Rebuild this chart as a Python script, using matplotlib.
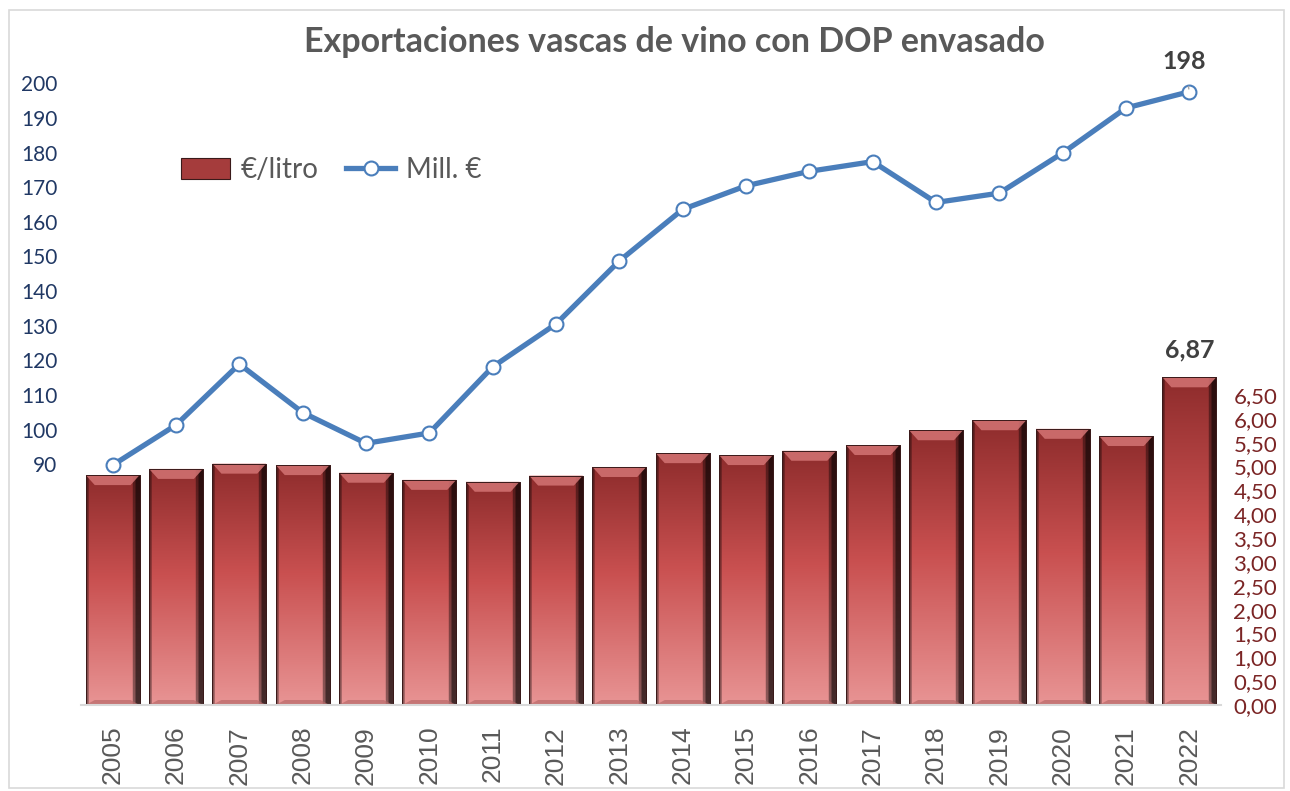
"""Exportaciones vascas de vino con DOP envasado: €/litro (barras) y Mill. € (línea)."""

import matplotlib

matplotlib.use("Agg")
import matplotlib.pyplot as plt  # noqa: E402
import numpy as np  # noqa: E402
from matplotlib.colors import to_rgb  # noqa: E402
from matplotlib.lines import Line2D  # noqa: E402
from matplotlib.patches import Polygon, Rectangle  # noqa: E402

years = [str(y) for y in range(2005, 2023)]
eur_litro = [4.82, 4.95, 5.06, 5.03, 4.87, 4.72, 4.68, 4.81, 4.99,
             5.28, 5.24, 5.33, 5.45, 5.76, 5.97, 5.79, 5.64, 6.87]
mill_eur = [89.7, 101.3, 118.9, 104.9, 96.0, 99.0, 118.1, 130.5, 148.7,
            163.6, 170.4, 174.6, 177.4, 165.6, 168.3, 179.9, 192.9, 197.6]
left_ticks = list(range(90, 201, 10))
right_ticks = [i * 0.5 for i in range(14)]

TITLE = "Exportaciones vascas de vino con DOP envasado"
BLUE = "#4A7EBB"
GREY = "#595959"


def bar_image(nrows=120, ncols=60):
    """Vertical dark-red -> pink gradient with darker side edges."""
    t = np.linspace(0, 1, nrows)[:, None]
    stops = [(0.0, "#8E2C2C"), (0.45, "#C95050"), (1.0, "#E89494")]
    pos = [s[0] for s in stops]
    cols = np.array([to_rgb(s[1]) for s in stops])
    rgb = np.stack([np.interp(t[:, 0], pos, cols[:, k]) for k in range(3)], axis=1)
    img = np.repeat(rgb[:, None, :], ncols, axis=1)
    u = np.linspace(0, 1, ncols)
    shade = np.ones(ncols)
    shade[u < 0.05] = 0.6
    shade[u > 0.92] = 0.3
    shade[(u > 0.88) & (u <= 0.92)] = 0.6
    return np.clip(img * shade[None, :, None], 0, 1)


plt.rcParams["font.family"] = ["Lato", "DejaVu Sans"]

fig = plt.figure(figsize=(12.9, 7.91), dpi=100)
ax = fig.add_axes([81 / 1290, 86 / 791, (1221 - 81) / 1290, (705 - 40) / 791])
ax2 = ax.twinx()

x = np.arange(len(years))
width = 0.85
img = bar_image()
bars = ax.bar(x, eur_litro, width=width, color="#B84444", edgecolor="#3A1A1A",
              linewidth=0.6, zorder=2)
bev_y = 10 / 47.7
bev_x = 9 / 63.3
for rect, v in zip(bars, eur_litro):
    x0 = rect.get_x()
    x1 = x0 + rect.get_width()
    im = ax.imshow(img, extent=[x0, x1, 0, v], origin="upper", aspect="auto",
                   zorder=2.1, interpolation="bilinear")
    im.set_clip_path(rect)
    ax.add_patch(Polygon([(x0, v), (x1, v), (x1 - bev_x, v - bev_y),
                          (x0 + bev_x, v - bev_y)], closed=True,
                         facecolor="#D47474", edgecolor="none", alpha=0.85,
                         zorder=2.2))
    ax.add_patch(Polygon([(x0, 0), (x1, 0), (x1 - bev_x, bev_y * 0.5),
                          (x0 + bev_x, bev_y * 0.5)], closed=True,
                         facecolor="#B86A6A", edgecolor="none", alpha=0.7,
                         zorder=2.2))
    ax.add_patch(Rectangle((x0, 0), x1 - x0, v, facecolor="none",
                           edgecolor="#3A1A1A", linewidth=0.7, zorder=2.3))

ax2.plot(x, mill_eur, color=BLUE, linewidth=3.8, marker="o", markersize=10,
         markerfacecolor="white", markeredgecolor=BLUE, markeredgewidth=1.5,
         zorder=3)

ax.set_xlim(-0.5, len(years) - 0.5)
ax.set_ylim(0, 665 / 47.7)
ax2.set_ylim(20.4, 20.4 + 665 / 3.461)

# bars read on the right axis, the line on the left one
ax.yaxis.tick_right()
ax2.yaxis.tick_left()
ax.set_yticks(right_ticks, [f"{v:.2f}".replace(".", ",") for v in right_ticks])
ax2.set_yticks(left_ticks, [str(v) for v in left_ticks])
ax.tick_params(axis="y", length=0, pad=9, labelsize=16, labelcolor="#7B2525")
ax2.tick_params(axis="y", length=0, pad=17, labelsize=15, labelcolor="#203864")
ax.set_xticks(x, years, rotation=90, fontfamily="Liberation Sans")
ax.tick_params(axis="x", length=0, pad=15, labelsize=19, labelcolor=GREY)

for a in (ax, ax2):
    for s in ("left", "right", "top"):
        a.spines[s].set_visible(False)
    a.patch.set_visible(False)
ax.spines["bottom"].set_color("#D9D9D9")
ax.spines["bottom"].set_linewidth(1.5)
ax2.spines["bottom"].set_visible(False)

ax2.annotate("198", xy=(x[-1], mill_eur[-1]), xytext=(-4, 22),
             textcoords="offset points", ha="center", va="center",
             fontsize=18, fontweight="bold", color="#404040",
             arrowprops=dict(arrowstyle="-", color="#A6A6A6", lw=1,
                             shrinkA=8, shrinkB=2))
ax.annotate("6,87", xy=(x[-1], eur_litro[-1]), xytext=(0, 20),
            textcoords="offset points", ha="center", va="center",
            fontsize=18, fontweight="bold", color="#404040")

fig.text(0.5225, 1 - 42 / 791, TITLE, ha="center", va="center", fontsize=24.5,
         fontweight="bold", color=GREY)

handles = [
    Rectangle((0, 0), 1, 1, facecolor="#A53C3C", edgecolor="#3A1A1A", linewidth=0.8),
    Line2D([], [], color=BLUE, linewidth=3.8, marker="o", markersize=10,
           markerfacecolor="white", markeredgecolor=BLUE, markeredgewidth=1.5),
]
fig.legend(handles, ["€/litro", "Mill. €"], loc="center left",
           bbox_to_anchor=(156 / 1290, 1 - 170 / 791), ncol=2, frameon=False,
           fontsize=20, handlelength=1.75, handleheight=0.8,
           handletextpad=0.4, columnspacing=1.0, labelcolor=GREY)

fig.patches.append(Rectangle((9 / 1290, 3 / 791), 1275 / 1290, 778 / 791,
                             transform=fig.transFigure, fill=False,
                             edgecolor="#D9D9D9", linewidth=1.2))

fig.savefig("out.png", dpi=100)
